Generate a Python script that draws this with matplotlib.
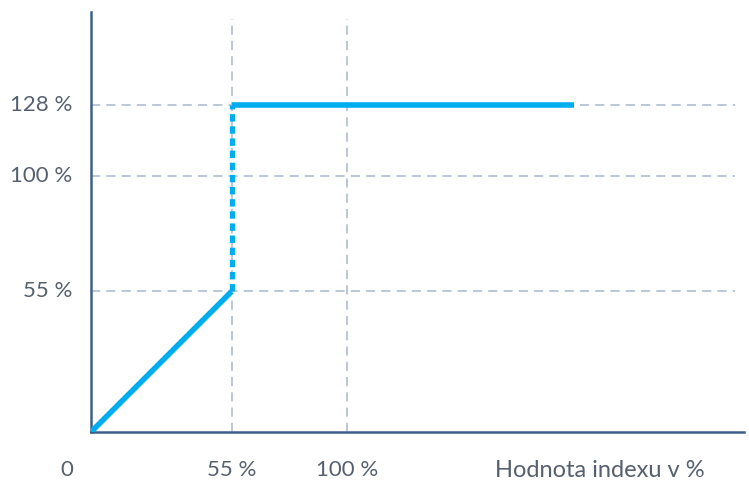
import matplotlib.pyplot as plt

# data
ramp_x = [0, 55]
ramp_y = [0, 55]
jump_x = [55, 55]
jump_y = [55, 128]
flat_x = [55, 189]
flat_y = [128, 128]
y_ticks = [55, 100, 128]
y_labels = ['55 %', '100 %', '128 %']
x_ticks = [55, 100]
x_labels = ['55 %', '100 %']

blue = '#00adef'
axis_col = '#3e5f8a'
grid_col = '#a8b7d0'
text_col = '#55606f'
plt.rcParams['font.family'] = ['Lato', 'DejaVu Sans']

fig = plt.figure(figsize=(7.49, 4.91), dpi=100)
ax = fig.add_axes([0.1215, 0.1202, 0.872, 0.855])
ax.set_xlim(0, 255.5)
ax.set_ylim(0, 164.3)

# grid
for y in y_ticks:
    ax.plot([0, 252], [y, y], color=grid_col, lw=1.1, dashes=(6, 4), zorder=1)
for x in x_ticks:
    ax.plot([x, x], [0, 161.6], color=grid_col, lw=1.1, dashes=(6, 4), zorder=1)

ax.plot(ramp_x, ramp_y, color=blue, lw=4, solid_capstyle='butt', zorder=3)
ax.plot(jump_x, jump_y, color=blue, lw=3.8, dashes=(1.4, 0.9), zorder=3)
ax.plot(flat_x, flat_y, color=blue, lw=4, solid_capstyle='butt', zorder=3)

for s in ['top', 'right']:
    ax.spines[s].set_visible(False)
for s in ['left', 'bottom']:
    ax.spines[s].set_color(axis_col)
    ax.spines[s].set_linewidth(1.8)

ax.set_xticks([])
ax.set_yticks([])

fs = 16
for y, lab in zip(y_ticks, y_labels):
    ax.text(-7.4, y, lab, ha='right', va='center', fontsize=fs, color=text_col)
for x, lab in zip(x_ticks, x_labels):
    ax.text(x, -15, lab, ha='center', va='center', fontsize=fs, color=text_col)
ax.text(-9.5, -15, '0', ha='center', va='center', fontsize=fs, color=text_col)
ax.text(199, -15, 'Hodnota indexu v %', ha='center', va='center', fontsize=fs + 1, color=text_col)

for t in ax.texts:
    t.set_clip_on(False)

plt.savefig('out.png', dpi=100)
